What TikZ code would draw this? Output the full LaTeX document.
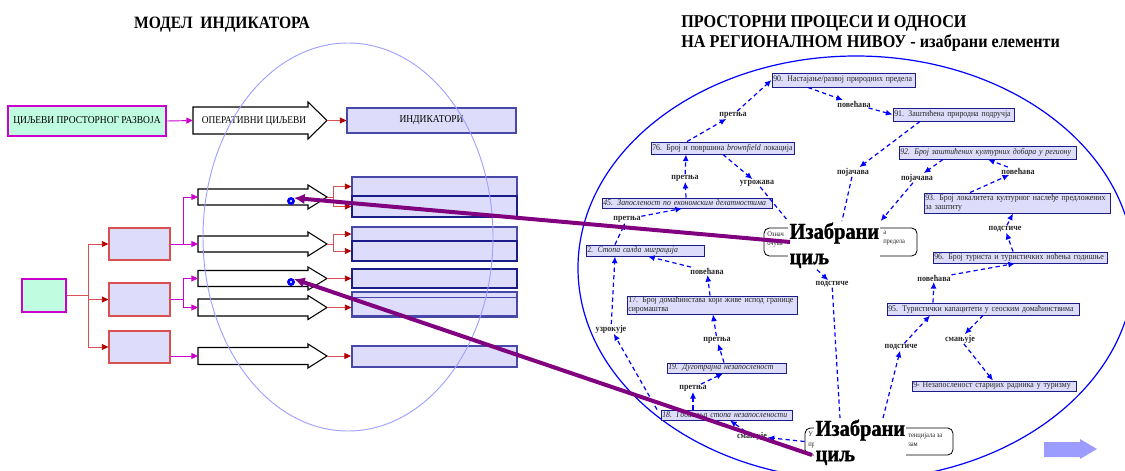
\documentclass[tikz,border=0pt]{standalone}
\usepackage{fontspec}
\setmainfont{Liberation Serif}[FakeStretch=0.9]
\newfontfamily\heavy{Liberation Serif}[FakeStretch=0.9, BoldFeatures={FakeBold=1.2}]
\usetikzlibrary{arrows.meta}
\definecolor{mint}{HTML}{C0FCE0}
\definecolor{lav}{HTML}{DDDDFB}
\definecolor{mag}{HTML}{CC00CC}
\definecolor{dred}{HTML}{B00000}
\definecolor{lred}{HTML}{D85050}
\definecolor{navy2}{HTML}{1C1C88}
\definecolor{indb}{HTML}{4848A8}
\definecolor{purp}{HTML}{800080}
\definecolor{ellc}{HTML}{A0A0FF}
\definecolor{bigarr}{HTML}{9C9CFF}
\tikzset{
  sz/.style n args={4}{minimum width={(#3-#1)*0.75pt}, minimum height={(#4-#2)*0.75pt}, at={({(#1+#3)/2},{(#2+#4)/2})}},
  rn/.style n args={4}{sz={#1}{#2}{#3}{#4}, text width={(#3-#1)*0.75pt-2pt}, rectangle, draw=navy2, fill=lav, line width=0.7pt,
     inner xsep=1pt, inner ysep=0pt, align=left, text=black!85, font=\fontsize{6.5}{7.3}\selectfont},
  lbox/.style n args={4}{sz={#1}{#2}{#3}{#4}, rectangle, draw=indb, fill=lav, line width=0.8pt, inner sep=0pt},
  rbox/.style n args={4}{sz={#1}{#2}{#3}{#4}, rectangle, draw=lred, fill=lav, line width=0.8pt, inner sep=0pt},
  lb/.style={font=\bfseries\fontsize{6.7}{7}\selectfont, inner sep=0.4pt, text=black!85},
  da/.style={blue, line width=0.9pt, dash pattern=on 3.2pt off 2.4pt, -{Latex[length=5pt,width=4.5pt]}},
  dn/.style={blue, line width=0.9pt, dash pattern=on 3.2pt off 2.4pt},
  redarr/.style={lred, line width=0.7pt, -{Triangle[length=5pt,width=4.5pt,color=dred]}},
  magarr/.style={mag, line width=0.7pt, -{Triangle[length=5pt,width=4.5pt]}},
  barrow/.style={draw=black, line width=0.8pt, fill=white},
  parr/.style={purp, line width=3pt, -{Latex[length=8pt,width=8pt]}},
  bigtxt/.style={font=\heavy\bfseries\fontsize{17}{19}\selectfont, align=left, fill=white, inner sep=1pt},
  tinytxt/.style={font=\fontsize{5.4}{7}\selectfont, align=left, inner sep=0pt, text=black!85},
  cbox/.style n args={4}{sz={#1}{#2}{#3}{#4}, rectangle, rounded corners=4pt, draw=black, line width=0.6pt, inner sep=0pt},
  bdot/.style={circle, fill=blue, minimum size=6pt, inner sep=0pt}
}
\newcommand\blockarrow[7]{%
  \draw[barrow] (#2,#5-#6) -- (#3,#5-#6) -- (#3,#5-#7) -- (#4,#5) -- (#3,#5+#7) -- (#3,#5+#6) -- (#2,#5+#6) -- cycle;
  \coordinate (#1-w) at (#2,#5); \coordinate (#1-e) at (#4,#5);}
\begin{document}
\begin{tikzpicture}[x=0.75pt,y=-0.75pt]
\useasboundingbox (0,0) rectangle (1125,471);
% ---------- left titles
\node[font=\bfseries\fontsize{13}{15}\selectfont, anchor=base] (t1) at (222,28) {МОДЕЛ\ \ ИНДИКАТОРА};
% ---------- left top row
\node[sz={8}{106}{166}{136}, draw=mag, fill=mint, line width=2pt, inner sep=0pt, font=\fontsize{7.9}{8}\selectfont] (goal) {ЦИЉЕВИ ПРОСТОРНОГ РАЗВОЈА};
\blockarrow{A0}{193}{308}{327}{120.5}{13.5}{18.5}
\node[font=\fontsize{7.8}{8}\selectfont, inner sep=0pt] (op) at (254,121) {ОПЕРАТИВНИ ЦИЉЕВИ};
\node[lbox={347}{108}{516}{133}, font=\fontsize{7.9}{8}\selectfont] (ind) {ИНДИКАТОРИ};
\draw[magarr] (goal.east) -- (A0-w);
\draw[redarr] (A0-e) -- (ind.west);
% ---------- left tree
\node[sz={22}{279}{66}{312}, draw=mag, fill=mint, line width=2pt, inner sep=0pt] (green) {};
\node[rbox={109}{228}{170}{260}] (box1) {};
\node[rbox={109}{283}{170}{316}] (box2) {};
\node[rbox={109}{331}{170}{363}] (box3) {};
\draw[redarr] (green.east) -- ++(21,0) |- (box1.west);
\draw[redarr] (green.east) -- ++(21,0) |- (box2.west);
\draw[redarr] (green.east) -- ++(21,0) |- (box3.west);
\blockarrow{A1}{198}{308}{327}{197}{8}{12}
\blockarrow{A2}{198}{308}{327}{244}{8}{12}
\blockarrow{A3}{198}{308}{327}{278.5}{8}{11.5}
\blockarrow{A4}{198}{308}{327}{307.5}{8.5}{12}
\blockarrow{A5}{198}{308}{327}{356}{8.5}{12}
\draw[magarr] (box1.east) -- ++(13,0) |- (A1-w);
\draw[magarr] (box1.east) -- (A2-w);
\draw[magarr] (box2.east) -- ++(13,0) |- (A3-w);
\draw[magarr] (box2.east) -- ++(13,0) |- (A4-w);
\draw[magarr] (box3.east |- A5-w) -- (A5-w);
\node[lbox={352}{177}{517}{196}] (B1a) {};
\node[lbox={352}{196}{517}{217}, draw=navy2] (B1b) {};
\node[lbox={352}{227}{517}{241}] (B2a) {};
\node[lbox={352}{241}{517}{261}, draw=navy2] (B2b) {};
\node[lbox={352}{269}{517}{288}, draw=navy2] (B3) {};
\node[lbox={352}{292}{517}{317}] (B4) {};
\node[sz={352}{297}{517}{315}, draw=indb, line width=0.6pt, inner sep=0pt] (B4i) {};
\node[lbox={352}{346}{517}{367}, line width=1.4pt] (B5) {};
\draw[redarr] (A1-e) -- ++(6,0) |- (B1a.west);
\draw[redarr] (A1-e) -- ++(6,0) |- (B1b.west);
\draw[redarr] (A2-e) -- ++(6,0) |- (B2a.west);
\draw[redarr] (A2-e) -- ++(6,0) |- (B2b.west);
\draw[redarr] (A3-e) -- (A3-e -| B3.west);
\draw[redarr] (A4-e) -- (A4-e -| B4.west);
\draw[redarr] (A5-e) -- (A5-e -| B5.west);
\node[bdot] (dot1) at (291,201) {};
\node[bdot] (dot2) at (291,282) {};
\fill[white] (dot1) circle (0.9pt);
\fill[white] (dot2) circle (0.9pt);
\draw[ellc, line width=0.7pt] (348,237) ellipse [x radius=108.75pt, y radius=145.5pt];
% ---------- right titles
\node[font=\bfseries\fontsize{13.5}{15}\selectfont, anchor=base west, inner sep=0pt] (t2a) at (681,27) {ПРОСТОРНИ ПРОЦЕСИ И ОДНОСИ};
\node[font=\bfseries\fontsize{13.5}{15}\selectfont, anchor=base west, inner sep=0pt] (t2b) at (681,47) {НА РЕГИОНАЛНОМ НИВОУ - изабрани елементи};
\draw[blue, line width=0.9pt] (856,268) ellipse [x radius=208.5pt, y radius=159pt];
% ---------- right nodes
\node[rn={772}{73}{915}{87}] (n90) {90. Настајање/развој природних предела};
\node[rn={893}{108}{1014}{121}] (n91) {91. Заштићена природна подручја};
\node[rn={651}{142}{794}{154}] (n76) {76. Број и површина \textit{brownfield} локација};
\node[rn={899}{146}{1076}{159}, font=\itshape\fontsize{6.5}{7.3}\selectfont] (n92) {92. Број заштићених културних добара у региону};
\node[rn={602}{198}{772}{208}, font=\itshape\fontsize{6.5}{7.3}\selectfont] (n45) {45. Запосленост по економским делатностима};
\node[rn={924}{193}{1110}{213}] (n93) {93. Број локалитета културног наслеђе предложених\\за заштиту};
\node[rn={586}{245}{704}{256}] (n2) {2. \textit{Стопа салда миграција}};
\node[rn={933}{252}{1107}{263}] (n96) {96. Број туриста и туристичких ноћења годишње};
\node[rn={627}{296}{797}{314}] (n17) {17. Број домаћинстава који живе испод границе\\сиромаштва};
\node[rn={887}{303}{1079}{315}] (n95) {95. Туристички капацитети у сеоским домаћинствима};
\node[rn={667}{363}{786}{373}, font=\itshape\fontsize{6.5}{7.3}\selectfont] (n19) {19. Дуготрајна незапосленост};
\node[rn={912}{381}{1076}{391}] (n9) {9- Незапосленост старијих радника у туризму};
\node[rn={661}{410}{792}{420}, font=\itshape\fontsize{6.5}{7.3}\selectfont] (n18) {18. Годишња стопа незапослености};
% ---------- selected goals
\node[cbox={764}{228}{917}{256}] (cb1) {};
\node[tinytxt, anchor=north west] (cb1l) at (767,231) {Означ\\очува};
\node[tinytxt, anchor=north west] (cb1r) at (883,231) {а\\предела};
\node[bigtxt, anchor=north west] (gc1) at (788,221) {Изабрани\\циљ};
\node[cbox={805}{428}{953}{455}] (cb2) {};
\node[tinytxt, anchor=north west] (cb2l) at (808,432) {У\\пр};
\node[tinytxt, anchor=north west] (cb2r) at (908,432) {тенцијала за\\зам};
\node[bigtxt, anchor=north west] (gc2) at (814,418) {Изабрани\\циљ};
% ---------- labels
\node[lb] (l1) at (733,115) {претња};
\node[lb] (l2) at (854,104) {повећава};
\node[lb] (l3) at (685,178) {претња};
\node[lb] (l4) at (757,183) {угрожава};
\node[lb] (l5) at (853,172) {појачава};
\node[lb] (l6) at (917,178) {појачава};
\node[lb] (l7) at (1018,171) {повећава};
\node[lb] (l8) at (1005,229) {подстиче};
\node[lb] (l9) at (627,219) {претња};
\node[lb] (l10) at (832,284) {подстиче};
\node[lb] (l11) at (707,271) {повећава};
\node[lb] (l12) at (934,278) {повећава};
\node[lb] (l13) at (717,340) {претња};
\node[lb] (l14) at (611,329) {узрокује};
\node[lb] (l15) at (693,388) {претња};
\node[lb] (l16) at (752,436) {смањује};
\node[lb] (l17) at (901,347) {подстиче};
\node[lb] (l18) at (960,339) {смањује};
% ---------- dashed connectors
\draw[da] (n76.north -| 687,0) -- (l1);   \draw[da] (l1) -- (n90.west);
\draw[da] (n90.south -| 808,0) -- (l2);   \draw[da] (l2) -- (n91.west);
\draw[da] (n45.north -| 686,0) -- (l3);   \draw[da] (l3) -- (n76.south -| 686,0);
\draw[da] (n76.south -| 723,0) -- (l4);   \draw[dn] (l4) -- (gc1.north west);
\draw[da] (n91.south -| 920,0) -- (l5);   \draw[dn] (l5) -- (gc1.north -| 842,0);
\draw[da] (n92.south -| 943,0) -- (l6);   \draw[da] (l6) -- (gc1.north east);
\draw[da] (n93.north -| 970,0) -- (l7);   \draw[da] (l7) -- (n92.south -| 988,0);
\draw[da] (n96.north -| 1013,0) -- (l8);  \draw[da] (l8) -- (n93.south -| 1013,0);
\draw[da] (n2.north -| 615,0) -- (l9);    \draw[da] (l9) -- (n45.south -| 682,0);
\draw[da] (gc1.south -| 817,0) -- (l10);  \draw[dn] (l10) -- (gc2.north -| 840,0);
\draw[da] (n17.north -| 710,0) -- (l11);  \draw[da] (l11) -- (n2.south -| 648,0);
\draw[da] (n95.north -| 933,0) -- (l12);  \draw[da] (l12) -- (n96.south -| 1015,0);
\draw[da] (n19.north -| 724,0) -- (l13);  \draw[da] (l13) -- (n17.south -| 713,0);
\draw[da] (n18.north -| 657,0) -- (l14);  \draw[da] (l14) -- (n2.south -| 615,0);
\draw[da] (n18.north -| 693,0) -- (l15);  \draw[da] (l15) -- (n19.south -| 723,0);
\draw[da] (cb2.west) -- (l16);            \draw[da] (l16) -- (n18.south -| 730,0);
\draw[da] (gc2.north -| 883,0) -- (l17);  \draw[da] (l17) -- (n95.south -| 930,0);
\draw[da] (n95.south -| 983,0) -- (l18);  \draw[da] (l18) -- (n9.north -| 993,0);
% ---------- big arrow bottom right
\fill[bigarr] (1044,442) -- (1080,442) -- (1080,439) -- (1097,449) -- (1080,459) -- (1080,457) -- (1044,457) -- cycle;
% ---------- purple arrows
\coordinate (p1) at (790,242);
\coordinate (p2) at (812,455);
\draw[parr] (p1) -- (dot1.45);
\draw[parr] (p2) -- (dot2.45);
\end{tikzpicture}
\end{document}
